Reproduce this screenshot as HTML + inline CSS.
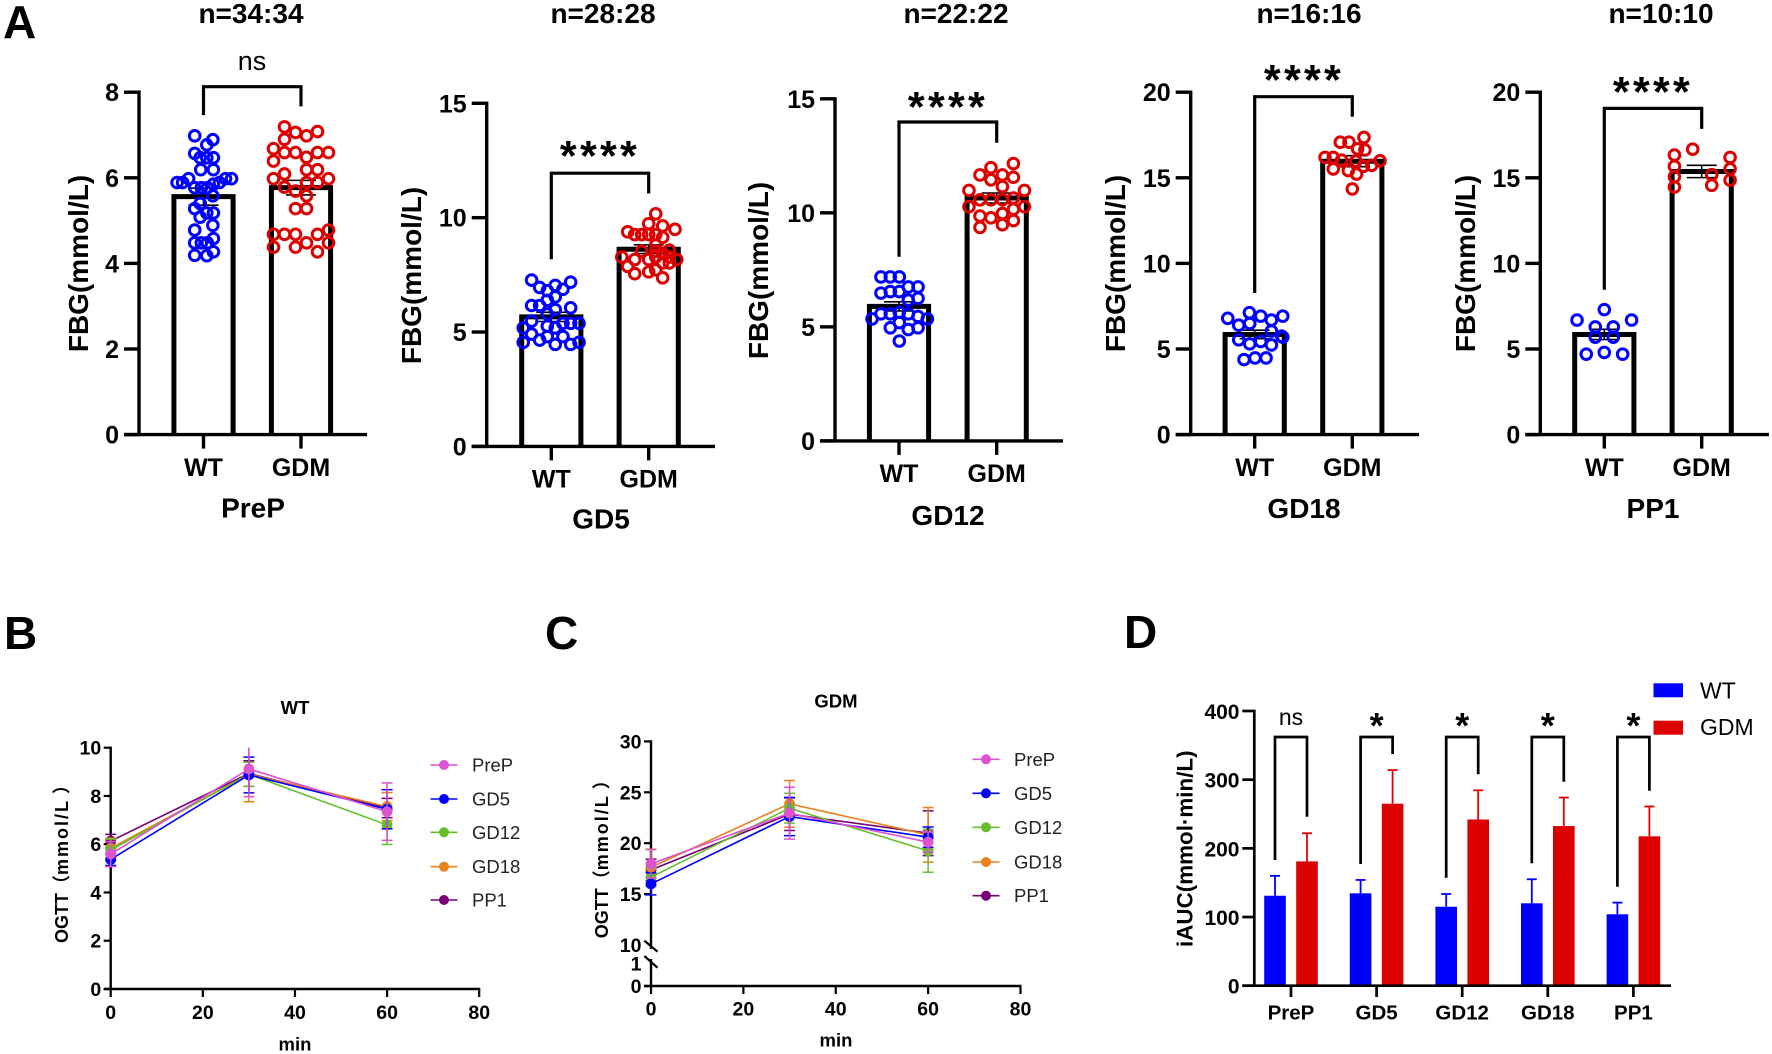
<!DOCTYPE html>
<html lang="en">
<head>
<meta charset="utf-8">
<title>FBG, OGTT and iAUC panels</title>
<style>
html,body{margin:0;padding:0;background:#fff;}
svg{display:block;font-family:"Liberation Sans","Noto Sans CJK SC",sans-serif;}
.bold{font-weight:700;fill:#000;}
.mid{text-anchor:middle;}
</style>
</head>
<body>
<svg id="figure" xmlns="http://www.w3.org/2000/svg" width="1772" height="1054" viewBox="0 0 1772 1054">
<rect width="1772" height="1054" fill="#fff"/>
<g>
<text class="bold" x="3" y="38" font-size="46">A</text>
<text class="bold" x="4" y="649" font-size="46">B</text>
<text class="bold" x="545" y="649" font-size="46">C</text>
<text class="bold" x="1124" y="648" font-size="46">D</text>
</g>
<g font-size="28">
<text class="bold mid" x="251" y="23">n=34:34</text>
<text class="bold mid" x="603" y="23">n=28:28</text>
<text class="bold mid" x="956" y="23">n=22:22</text>
<text class="bold mid" x="1309" y="23">n=16:16</text>
<text class="bold mid" x="1661" y="23">n=10:10</text>
</g>
<g font-size="28">
<text class="bold mid" transform="translate(88,263.5) rotate(-90)">FBG(mmol/L)</text>
<text class="bold mid" transform="translate(421,275.5) rotate(-90)">FBG(mmol/L)</text>
<text class="bold mid" transform="translate(768,270.5) rotate(-90)">FBG(mmol/L)</text>
<text class="bold mid" transform="translate(1125,263.5) rotate(-90)">FBG(mmol/L)</text>
<text class="bold mid" transform="translate(1475,263.5) rotate(-90)">FBG(mmol/L)</text>
</g>
<g font-size="28">
<text class="bold mid" x="253" y="517.5">PreP</text>
<text class="bold mid" x="601" y="528.5">GD5</text>
<text class="bold mid" x="948" y="525">GD12</text>
<text class="bold mid" x="1304" y="518">GD18</text>
<text class="bold mid" x="1653" y="518">PP1</text>
</g>
<text class="mid" x="252" y="70" font-size="27" fill="#000">ns</text>

<g>
<text class="bold mid" x="295" y="714" font-size="18.5">WT</text>
<text class="bold mid" x="295" y="1050.7" font-size="18.5">min</text>
<text class="bold" transform="translate(68,943) rotate(-90)" font-size="18">OGTT（<tspan letter-spacing="2">mmol/L</tspan> ）</text>
</g>
<g>
<text class="bold mid" x="836" y="707.3" font-size="18.5">GDM</text>
<text class="bold mid" x="836" y="1046.7" font-size="18.5">min</text>
<text class="bold" transform="translate(608,938.3) rotate(-90)" font-size="18">OGTT（<tspan letter-spacing="2">mmol/L</tspan> ）</text>
</g>
<text class="bold mid" transform="translate(1192.3,848.7) rotate(-90)" font-size="22.4">iAUC(mmol·min/L)</text>
<g>
<rect x="1653.5" y="683.3" width="29.5" height="14" fill="#0000ff"/>
<text x="1700" y="698.3" font-size="23" fill="#000">WT</text>
<rect x="1653.5" y="720.7" width="29.5" height="14" fill="#dc0000"/>
<text x="1700" y="735" font-size="23" fill="#000">GDM</text>
</g>
<g id="charts"></g>
</svg>

<script>
/* ---------- Panel A data ---------- */
const groupLabels = ['WT', 'GDM'];

const prepTicks = [0, 2, 4, 6, 8];
const prepMeans = [5.56, 5.77];
const prepSems = [0.2, 0.17];
const prepWtValues = [6.98,6.89,6.77,6.57,6.47,6.47,6.47,6.19,6.19,5.89,5.89,5.98,5.77,5.77,5.77,5.85,5.89,5.98,5.98,5.58,5.40,5.28,5.18,5.18,5.08,4.78,4.89,4.58,4.48,4.48,4.48,4.27,4.19,4.18];
const prepWtSlots = [-0.8,0.85,0.3,-0.8,-0.3,0.3,0.9,-0.25,0.9,-2.4,-1.9,-1.35,-0.8,-0.2,0.35,0.9,1.45,2,2.55,0.85,-0.3,-0.8,0.9,0.3,-0.3,-0.8,0.85,0.9,-0.8,-0.2,0.35,0.9,-0.8,0.3];
const prepGdmValues = [7.19,7.06,6.98,7.08,6.9,6.68,6.59,6.59,6.48,6.59,6.59,6.39,6.19,6.19,5.98,6.09,5.89,5.89,5.98,5.78,5.69,5.58,5.28,5.28,4.68,4.68,4.68,4.68,4.78,4.38,4.38,4.48,4.48,4.27];
const prepGdmSlots = [-1.5,-0.5,0.5,1.5,-1.5,-2.5,-1.5,-0.5,0.5,1.5,2.5,-2.5,0.5,1.5,-2.5,-1.5,0.5,1.5,2.5,-1.5,-0.5,0.5,-0.5,0.5,-2.5,-1.5,-0.5,1.5,2.5,-2.5,-0.5,0.5,2.5,1.5];

const gd5Ticks = [0, 5, 10, 15];
const gd5Means = [5.66, 8.62];
const gd5Sems = [0.2, 0.19];
const gd5WtValues = [7.27,7.18,6.95,7.04,6.87,6.81,6.54,6.39,6.16,6.16,6.06,5.98,5.79,5.48,5.38,5.38,5.38,5.18,5.26,5.18,4.91,4.80,4.80,4.65,4.55,4.46,4.46,4.55];
const gd5WtSlots = [-1.79,1.76,-1.06,0.36,1.06,-0.36,0.36,-0.36,-1.79,-1.06,1.76,0.36,-0.36,-1.79,1.06,1.76,2.52,-2.55,-0.36,0.36,-1.79,-0.36,1.06,-1.06,-2.55,0.36,1.76,2.52];
const gd5GdmValues = [10.17,9.74,9.64,9.38,9.26,9.26,9.26,9.26,9.49,9.14,8.81,8.53,8.53,8.58,8.43,8.28,8.17,8.17,8.28,8.28,8.17,8.02,8.02,7.87,7.55,7.63,7.72,7.37];
const gd5GdmSlots = [0.64,0,1.27,-1.91,-1.27,-0.64,0,0.64,2.39,1.27,0.64,-0.64,0.64,1.88,1.27,-2.45,-1.27,0,0.64,1.88,2.55,1.27,1.88,-1.91,-1.27,0,0.64,1.27];

const gd12Ticks = [0, 5, 10, 15];
const gd12Means = [5.9, 10.65];
const gd12Sems = [0.2, 0.22];
const gd12WtValues = [7.19,7.19,7.19,6.75,6.75,6.48,6.55,6.55,6.17,6.25,5.35,5.57,5.57,5.64,5.57,5.46,5.35,5.19,4.96,4.88,4.96,4.38];
const gd12WtSlots = [-1.64,-0.79,0.03,0.85,1.73,-1.64,-0.79,0.03,0.85,1.73,-2.45,-1.64,-0.79,0.03,0.85,1.73,2.58,0.03,-0.79,0.85,1.73,0.03];
const gd12GdmValues = [12.16,11.98,11.66,11.45,11.66,11.56,11.15,10.98,10.98,10.57,10.57,10.57,10.65,10.27,10.27,10.16,9.97,9.86,9.78,9.66,9.48,9.36];
const gd12GdmSlots = [1.52,-0.52,-1.52,-0.52,0.52,1.52,0.52,-2.52,2.52,-1.52,-0.52,0.52,1.52,-2.52,2.52,1.52,0.52,-1.52,-0.52,1.52,0.52,-1.52];

const gd18Ticks = [0, 5, 10, 15, 20];
const gd18Means = [5.85, 15.97];
const gd18Sems = [0.25, 0.32];
const gd18WtValues = [7.12,6.79,6.92,6.92,6.69,6.39,6.49,6.05,5.54,5.69,5.75,5.30,5.44,5.24,4.38,4.48,4.48];
const gd18WtSlots = [-0.48,-2.45,2.55,0.55,1.52,-1.45,-0.45,1.52,-1.45,2.55,2.45,-0.45,0.55,1.52,-0.97,0.03,1.03];
const gd18GdmValues = [17.36,17.08,17.08,16.69,16.63,16.19,16.19,16.03,15.97,15.99,15.73,15.67,15.52,15.42,15.22,14.35];
const gd18GdmSlots = [1.06,-1.09,-0.3,0.48,1.15,-2.48,-1.73,-0.97,0.33,2.52,1.76,1,-1.73,-0.36,0.39,0];

const pp1Ticks = [0, 5, 10, 15, 20];
const pp1Means = [5.85, 15.37];
const pp1Sems = [0.3, 0.36];
const pp1WtValues = [7.30,6.69,6.69,6.29,6.29,5.69,5.69,4.70,4.80,4.70];
const pp1WtSlots = [0,-2.48,2.48,-0.82,0.82,-0.82,0.82,-1.64,0,1.67];
const pp1GdmValues = [16.67,16.33,16.19,15.67,15.52,15.06,15.18,14.86,14.56,14.46];
const pp1GdmSlots = [-0.82,-2.48,2.58,-2.48,2.58,-2.48,0.91,2.58,0.91,-2.48];

/* ---------- Panels B and C data ---------- */
const ogttTimes = [0, 30, 60];
const ogttXTicks = [0, 20, 40, 60, 80];
const stageNames = ['PreP', 'GD5', 'GD12', 'GD18', 'PP1'];

const wtYTicks = [0, 2, 4, 6, 8, 10];
const wtPrepValues = [5.59, 9.12, 7.35];
const wtGd5Values = [5.37, 8.87, 7.45];
const wtGd12Values = [5.76, 8.9, 6.8];
const wtGd18Values = [5.83, 8.9, 7.56];
const wtPp1Values = [6.13, 8.93, 7.5];
const wtPrepSds = [0.52, 1.15, 1.19];
const wtGd5Sds = [0.25, 0.74, 0.81];
const wtGd12Sds = [0.45, 0.5, 0.81];
const wtGd18Sds = [0.42, 1.14, 0.58];
const wtPp1Sds = [0.28, 0.53, 0.4];

const gdmYTicks = [0, 1, 10, 15, 20, 25, 30];
const gdmPrepValues = [17.97, 22.95, 20.1];
const gdmGd5Values = [16.0, 22.62, 20.59];
const gdmGd12Values = [16.66, 23.44, 19.25];
const gdmGd18Values = [17.64, 23.87, 20.82];
const gdmPp1Values = [17.38, 22.85, 20.98];
const gdmPrepSds = [1.4, 2.55, 1.0];
const gdmGd5Sds = [1.08, 1.88, 1.0];
const gdmGd12Sds = [0.9, 1.46, 2.1];
const gdmGd18Sds = [1.77, 2.29, 2.68];
const gdmPp1Sds = [1.05, 1.6, 2.2];

/* ---------- Panel D data ---------- */
const iaucCategories = ['PreP', 'GD5', 'GD12', 'GD18', 'PP1'];
const iaucTicks = [0, 100, 200, 300, 400];
const iaucWtMeans = [131, 134.5, 115, 120, 104];
const iaucGdmMeans = [181, 265, 242, 232.5, 217.5];
const iaucWtErrors = [29, 19.5, 18.5, 35, 17];
const iaucGdmErrors = [41, 49, 42.5, 41.5, 43.5];
const iaucSignificance = ['ns', '*', '*', '*', '*'];

/* ---------- Drawing helpers ---------- */
const NS = 'http://www.w3.org/2000/svg';
const root = document.getElementById('charts');
const BLUE = '#0000ff';
const RED = '#dc0000';

function add(parent, tag, attrs, text) {
  const n = document.createElementNS(NS, tag);
  for (const k in attrs) n.setAttribute(k, attrs[k]);
  if (text !== undefined) n.textContent = text;
  parent.appendChild(n);
  return n;
}

function seg(parent, x1, y1, x2, y2, stroke, width) {
  return add(parent, 'line', { x1: x1, y1: y1, x2: x2, y2: y2, stroke: stroke, 'stroke-width': width });
}

/* ---------- Panel A ---------- */
function drawFbg(c) {
  const y = v => c.yZero - (v / c.yMax) * (c.yZero - c.yTop);
  const g = add(root, 'g', {});
  
  

  const yAxis = seg(g, c.axisX, c.yTop - 1.7, c.axisX, c.yZero, '#000', 3.4);
  
  

  c.ticks.forEach(t => {
    const tick = seg(g, c.axisX - 15, y(t), c.axisX, y(t), '#000', 3.4);
    
    
    const lab = add(g, 'text', { x: c.axisX - 20, y: y(t) + 9, 'font-size': 25, 'text-anchor': 'end', class: 'bold' }, String(t));
    
    
  });

  const series = [
    { values: c.wt, slots: c.wtSlots, color: BLUE },
    { values: c.gdm, slots: c.gdmSlots, color: RED }
  ];

  groupLabels.forEach((label, i) => {
    const cx = c.centers[i];
    const top = y(c.means[i]);
    const bar = add(g, 'polyline', {
      points: [cx - 29.6, c.yZero, cx - 29.6, top, cx + 29.6, top, cx + 29.6, c.yZero].join(' '),
      fill: '#fff', stroke: '#000', 'stroke-width': 5
    });
    
    
  });

  const xAxis = seg(g, c.axisX - 15, c.yZero, c.xEnd, c.yZero, '#000', 3.4);
  
  

  groupLabels.forEach((label, i) => {
    const cx = c.centers[i];
    const tick = seg(g, cx, c.yZero, cx, c.yZero + 14, '#000', 3.4);
    
    
    const lab = add(g, 'text', { x: cx, y: c.labelY, 'font-size': 25, 'text-anchor': 'middle', class: 'bold' }, label);
    
    

    const hi = y(c.means[i] + c.sems[i]);
    const lo = y(c.means[i] - c.sems[i]);
    const stem = seg(g, cx, hi, cx, lo, '#000', 1.6);
    
    
    const capTop = seg(g, cx - 15, hi, cx + 15, hi, '#000', 1.6);
    
    
    const capLow = seg(g, cx - 15, lo, cx + 15, lo, '#000', 1.6);
    
    

    series[i].values.forEach((v, k) => {
      const dot = add(g, 'circle', { cx: cx + series[i].slots[k] * 11, cy: y(v), r: 5.3, fill: 'none', stroke: series[i].color, 'stroke-width': 3 });
      
      
    });
  });

  const bracket = add(g, 'polyline', {
    points: [c.centers[0], c.bracket[1], c.centers[0], c.bracket[0], c.centers[1], c.bracket[0], c.centers[1], c.bracket[2]].join(' '),
    fill: 'none', stroke: '#000', 'stroke-width': 3.2
  });
  
  

  if (c.stars) {
    const s = add(g, 'text', { x: c.starX, y: c.starY + 20, 'font-size': 43, 'text-anchor': 'middle', class: 'bold', 'letter-spacing': 3.3 }, c.stars);
    
    
  }
}

drawFbg({ id: 'prep', axisX: 139, yTop: 92.2, yZero: 434.6, yMax: 8, xEnd: 367, centers: [203.5, 301], ticks: prepTicks, labelY: 476, wt: prepWtValues, wtSlots: prepWtSlots, gdm: prepGdmValues, gdmSlots: prepGdmSlots, means: prepMeans, sems: prepSems, bracket: [86.7, 115.1, 106.4] });
drawFbg({ id: 'gd5', axisX: 486.7, yTop: 103.3, yZero: 446.4, yMax: 15, xEnd: 715, centers: [551.3, 648.7], ticks: gd5Ticks, labelY: 487.5, wt: gd5WtValues, wtSlots: gd5WtSlots, gdm: gd5GdmValues, gdmSlots: gd5GdmSlots, means: gd5Means, sems: gd5Sems, bracket: [173.2, 259.3, 193.5], stars: '****', starX: 600, starY: 150.6 });
drawFbg({ id: 'gd12', axisX: 835, yTop: 98.8, yZero: 440.9, yMax: 15, xEnd: 1063, centers: [899, 996.7], ticks: gd12Ticks, labelY: 482, wt: gd12WtValues, wtSlots: gd12WtSlots, gdm: gd12GdmValues, gdmSlots: gd12GdmSlots, means: gd12Means, sems: gd12Sems, bracket: [122, 256.8, 142.7], stars: '****', starX: 948, starY: 101.4 });
drawFbg({ id: 'gd18', axisX: 1190.7, yTop: 92.2, yZero: 434.6, yMax: 20, xEnd: 1419, centers: [1254.7, 1352.3], ticks: gd18Ticks, labelY: 476, wt: gd18WtValues, wtSlots: gd18WtSlots, gdm: gd18GdmValues, gdmSlots: gd18GdmSlots, means: gd18Means, sems: gd18Sems, bracket: [96.7, 293.1, 116.7], stars: '****', starX: 1304, starY: 74.7 });
drawFbg({ id: 'pp1', axisX: 1540.3, yTop: 92.2, yZero: 434.6, yMax: 20, xEnd: 1769, centers: [1604.3, 1701.7], ticks: pp1Ticks, labelY: 476, wt: pp1WtValues, wtSlots: pp1WtSlots, gdm: pp1GdmValues, gdmSlots: pp1GdmSlots, means: pp1Means, sems: pp1Sems, bracket: [108.4, 289.7, 128.9], stars: '****', starX: 1653, starY: 86.7 });

/* ---------- Panels B and C ---------- */
const stageColors = ['#dc54ce', '#0000ff', '#66be2c', '#e8801e', '#770077'];

function drawOgtt(c) {
  const x = t => c.x0 + (t / 80) * (c.x80 - c.x0);
  const g = add(root, 'g', {});
  
  

  c.axisSegments.forEach(s => {
    const yAxis = seg(g, c.x0, s[0], c.x0, s[1], '#000', 2.4);
    
    
  });

  c.yTicks.forEach(t => {
    if (!c.breakTicks.includes(t)) {
      const tick = seg(g, c.x0 - 7, c.y(t), c.x0, c.y(t), '#000', 2.2);
      
      
    }
    const lab = add(g, 'text', { x: c.x0 - 9.5, y: c.y(t) + 7, 'font-size': 19.5, 'text-anchor': 'end', class: 'bold' }, String(t));
    
    
  });

  const xAxis = seg(g, c.x0 - 7, c.yBase, c.x80 + 1, c.yBase, '#000', 2.4);
  
  

  ogttXTicks.forEach(t => {
    const tick = seg(g, x(t), c.yBase, x(t), c.yBase + 8, '#000', 2.2);
    
    
    const lab = add(g, 'text', { x: x(t), y: c.xLabelY, 'font-size': 19.5, 'text-anchor': 'middle', class: 'bold' }, String(t));
    
    
  });

  [4, 3, 2, 1, 0].forEach(i => {
    const s = add(g, 'g', {});
    
    
    const color = stageColors[i];
    const values = c.values[i];
    const sds = c.sds[i];

    ogttTimes.forEach((t, k) => {
      const top = Math.min(values[k] + sds[k], c.yMax);
      const low = values[k] - sds[k];
      const stem = seg(s, x(t), c.y(top), x(t), c.y(low), color, 1.5);
      
      
      if (values[k] + sds[k] <= c.yMax) {
        const capTop = seg(s, x(t) - 5.5, c.y(top), x(t) + 5.5, c.y(top), color, 1.5);
        
        
      }
      const capLow = seg(s, x(t) - 5.5, c.y(low), x(t) + 5.5, c.y(low), color, 1.5);
      
      
    });

    const path = add(s, 'polyline', {
      points: ogttTimes.map((t, k) => x(t) + ',' + c.y(values[k])).join(' '),
      fill: 'none', stroke: color, 'stroke-width': 1.6
    });
    
    

    ogttTimes.forEach((t, k) => {
      const dot = add(s, 'circle', { cx: x(t), cy: c.y(values[k]), r: 5.4, fill: color });
      
      
    });
  });

  stageNames.forEach((name, i) => {
    const ly = c.legendY[i];
    const key = seg(g, c.legendX, ly, c.legendX + 27, ly, stageColors[i], 1.6);
    
    
    const mark = add(g, 'circle', { cx: c.legendX + 13.5, cy: ly, r: 5, fill: stageColors[i] });
    
    
    const lab = add(g, 'text', { x: c.legendX + 41.5, y: ly + 6.5, 'font-size': 18.5, fill: '#222' }, name);
    
    
  });

  c.breaks.forEach(b => {
    const mark = seg(g, b[0], b[1], b[2], b[3], '#000', 2.2);
    
    
  });
}

drawOgtt({
  id: 'wt', x0: 110.7, x80: 479.2, yBase: 989, yMax: 10, xLabelY: 1019,
  y: v => 989 - v * 24.13,
  yTicks: wtYTicks, breakTicks: [], breaks: [], axisSegments: [[746.6, 989]],
  values: [wtPrepValues, wtGd5Values, wtGd12Values, wtGd18Values, wtPp1Values],
  sds: [wtPrepSds, wtGd5Sds, wtGd12Sds, wtGd18Sds, wtPp1Sds],
  legendX: 430.5, legendY: [765, 799, 832.3, 866.7, 900]
});

drawOgtt({
  id: 'gdm', x0: 651, x80: 1020.5, yBase: 986, yMax: 30, xLabelY: 1015.7,
  y: v => v >= 10 ? 945 - (v - 10) * 10.18 : 986 - v * 22.7,
  yTicks: gdmYTicks, breakTicks: [1, 10], axisSegments: [[740.2, 949], [959, 986]],
  breaks: [[644.4, 940.7, 657.5, 951.7], [644.4, 956, 657.5, 967.7]],
  values: [gdmPrepValues, gdmGd5Values, gdmGd12Values, gdmGd18Values, gdmPp1Values],
  sds: [gdmPrepSds, gdmGd5Sds, gdmGd12Sds, gdmGd18Sds, gdmPp1Sds],
  legendX: 972.5, legendY: [759.3, 793.3, 827.3, 862, 895.7]
});

/* ---------- Panel D ---------- */
(function drawIauc() {
  const yZero = 985.7, yTop = 711, axisX = 1254.3, xEnd = 1671, tickLeft = 1242.3;
  const y = v => yZero - (v / 400) * (yZero - yTop);
  const cat = i => 1291 + i * 85.6;
  const bracketLeft = [860, 864, 877.7, 863.3, 886.7];
  const bracketRight = [816.7, 754, 774.3, 781.7, 790.7];
  const g = add(root, 'g', {});
  
  

  iaucCategories.forEach((name, i) => {
    [[iaucWtMeans, iaucWtErrors, BLUE, -16, 'wt'], [iaucGdmMeans, iaucGdmErrors, RED, 16, 'gdm']].forEach(s => {
      const cx = cat(i) + s[3];
      const mean = s[0][i];
      const top = mean + s[1][i];
      const stem = seg(g, cx, y(mean), cx, y(top), s[2], 1.8);
      
      
      const cap = seg(g, cx - 5, y(top), cx + 5, y(top), s[2], 1.8);
      
      
      const bar = add(g, 'rect', { x: cx - 10.8, y: y(mean), width: 21.6, height: yZero - y(mean), fill: s[2] });
      
      
    });

    const xl = cat(i) - 16;
    const xr = cat(i) + 16;
    const bracket = add(g, 'polyline', {
      points: [xl, bracketLeft[i], xl, 737, xr, 737, xr, bracketRight[i]].join(' '),
      fill: 'none', stroke: '#000', 'stroke-width': 2.7
    });
    
    

    const isNs = iaucSignificance[i] === 'ns';
    const sig = add(g, 'text', isNs
      ? { x: cat(i), y: 725, 'font-size': 23, 'text-anchor': 'middle', fill: '#000' }
      : { x: cat(i), y: 738, 'font-size': 36, 'text-anchor': 'middle', class: 'bold' }, iaucSignificance[i]);
    
    

    const tick = seg(g, cat(i), yZero, cat(i), 997, '#000', 2.7);
    
    
    const lab = add(g, 'text', { x: cat(i), y: 1019.3, 'font-size': 20.5, 'text-anchor': 'middle', class: 'bold' }, name);
    
    
  });

  const yAxis = seg(g, axisX, yTop - 1.3, axisX, yZero, '#000', 2.7);
  
  
  const xAxis = seg(g, tickLeft, yZero, xEnd, yZero, '#000', 2.7);
  
  

  iaucTicks.forEach(t => {
    const tick = seg(g, tickLeft, y(t), axisX, y(t), '#000', 2.7);
    
    
    const lab = add(g, 'text', { x: 1239.5, y: y(t) + 8, 'font-size': 21, 'text-anchor': 'end', class: 'bold' }, String(t));
    
    
  });
})();
</script>
</body>
</html>
